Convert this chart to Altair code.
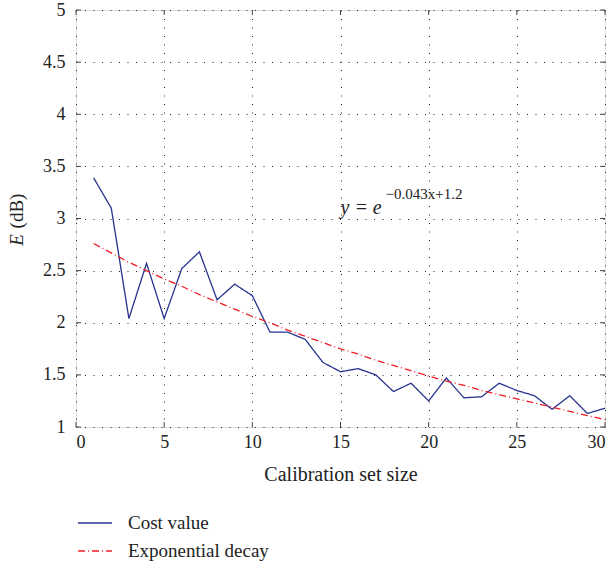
import altair as alt
import pandas as pd

# ---- data ----
set_size = list(range(1, 31))
cost_value = [3.39, 3.10, 2.04, 2.57, 2.04, 2.52, 2.68, 2.22, 2.37, 2.26,
              1.91, 1.91, 1.84, 1.62, 1.53, 1.56, 1.50, 1.34, 1.42, 1.25,
              1.47, 1.28, 1.29, 1.42, 1.35, 1.30, 1.17, 1.30, 1.13, 1.18]
exp_decay = [2.76, 2.67, 2.58, 2.50, 2.42, 2.35, 2.27, 2.20, 2.13, 2.06,
             2.00, 1.93, 1.87, 1.81, 1.75, 1.70, 1.64, 1.59, 1.54, 1.49,
             1.44, 1.40, 1.35, 1.31, 1.27, 1.23, 1.19, 1.15, 1.11, 1.07]
series_names = ["Cost value", "Exponential decay"]
x_ticks = [0, 5, 10, 15, 20, 25, 30]
y_ticks = [1, 1.5, 2, 2.5, 3, 3.5, 4, 4.5, 5]

ann_main_text = ["y = e"]
ann_main_x = [15.0]
ann_main_y = [3.04]
ann_sup_text = ["\u22120.043x+1.2"]
ann_sup_x = [17.55]
ann_sup_y = [3.185]

FONT = "Liberation Serif"
W, H = 529, 417

rows = []
for x, c, d in zip(set_size, cost_value, exp_decay):
    rows.append({"x": x, "y": c, "series": series_names[0]})
    rows.append({"x": x, "y": d, "series": series_names[1]})
df = pd.DataFrame(rows)

xaxis = alt.Axis(values=x_ticks, grid=True, gridDash=[1, 7.5], gridColor="#222",
                 gridWidth=1, domain=False, ticks=False, labelFont=FONT,
                 labelFontSize=18, labelColor="#222", labelPadding=6,
                 title="Calibration set size", titleFont=FONT, titleFontSize=20,
                 titleFontWeight="normal", titleColor="#222", titlePadding=13)
yaxis = alt.Axis(values=y_ticks, grid=True, gridDash=[1, 7.5], gridColor="#222",
                 gridWidth=1, domain=False, ticks=False, labelFont=FONT,
                 labelFontSize=18, labelColor="#222", labelPadding=11,
                 format="~g", title=None)


def X(field="x"):
    return alt.X(f"{field}:Q", scale=alt.Scale(domain=[0, 30], nice=False, zero=False), axis=xaxis)


def Y(field="y"):
    return alt.Y(f"{field}:Q", scale=alt.Scale(domain=[1, 5], nice=False, zero=False), axis=yaxis)


legend = alt.Legend(title=None, orient="none", legendX=1, legendY=495,
                    symbolType="stroke", symbolSize=1150,
                    symbolStrokeWidth=1.3, labelFont=FONT,
                    labelFontSize=19, labelColor="#222",
                    labelOffset=15, rowPadding=-8)

lines = alt.Chart(df).mark_line(strokeWidth=1.3).encode(
    x=X(), y=Y(),
    color=alt.Color("series:N", scale=alt.Scale(domain=series_names, range=["#27338f", "#ee1c25"]),
                    legend=legend),
    strokeDash=alt.StrokeDash("series:N", scale=alt.Scale(domain=series_names,
                                                          range=[[1, 0], [7, 3, 1, 3]]),
                              legend=legend),
)

xt = pd.DataFrame({"x": x_ticks})
yt = pd.DataFrame({"y": y_ticks})
tick_color = "#444"
bottom_ticks = alt.Chart(xt).mark_rule(color=tick_color).encode(x=X(), y=alt.value(H), y2=alt.value(H - 5))
top_ticks = alt.Chart(xt).mark_rule(color=tick_color).encode(x=X(), y=alt.value(0), y2=alt.value(5))
left_ticks = alt.Chart(yt).mark_rule(color=tick_color).encode(y=Y(), x=alt.value(0), x2=alt.value(5))
right_ticks = alt.Chart(yt).mark_rule(color=tick_color).encode(y=Y(), x=alt.value(W), x2=alt.value(W - 5))

ann1 = alt.Chart(pd.DataFrame({"x": ann_main_x, "y": ann_main_y, "t": ann_main_text})).mark_text(
    align="left", baseline="alphabetic", font=FONT, fontSize=20, fontStyle="italic", color="#222"
).encode(x=X(), y=Y(), text="t:N")
ann2 = alt.Chart(pd.DataFrame({"x": ann_sup_x, "y": ann_sup_y, "t": ann_sup_text})).mark_text(
    align="left", baseline="alphabetic", font=FONT, fontSize=15, color="#222"
).encode(x=X(), y=Y(), text="t:N")

ylab_e = alt.Chart(pd.DataFrame({"t": ["E"]})).mark_text(
    angle=270, align="center", baseline="middle", font=FONT, fontSize=19,
    fontStyle="italic", color="#222"
).encode(text="t:N", x=alt.value(-59), y=alt.value(230))
ylab_db = alt.Chart(pd.DataFrame({"t": ["(dB)"]})).mark_text(
    angle=270, align="center", baseline="middle", font=FONT, fontSize=19, color="#222"
).encode(text="t:N", x=alt.value(-59), y=alt.value(201))

chart = alt.layer(lines, bottom_ticks, top_ticks, left_ticks, right_ticks, ann1, ann2,
                  ylab_e, ylab_db).properties(
    width=W, height=H,
    autosize=alt.AutoSizeParams(type="none"),
    padding={"left": 76, "top": 10, "right": 11, "bottom": 140},
).configure_view(stroke="#444", strokeWidth=1.2).configure(background="white")

chart.save("out.html", embed_options={"renderer": "svg", "actions": False})
